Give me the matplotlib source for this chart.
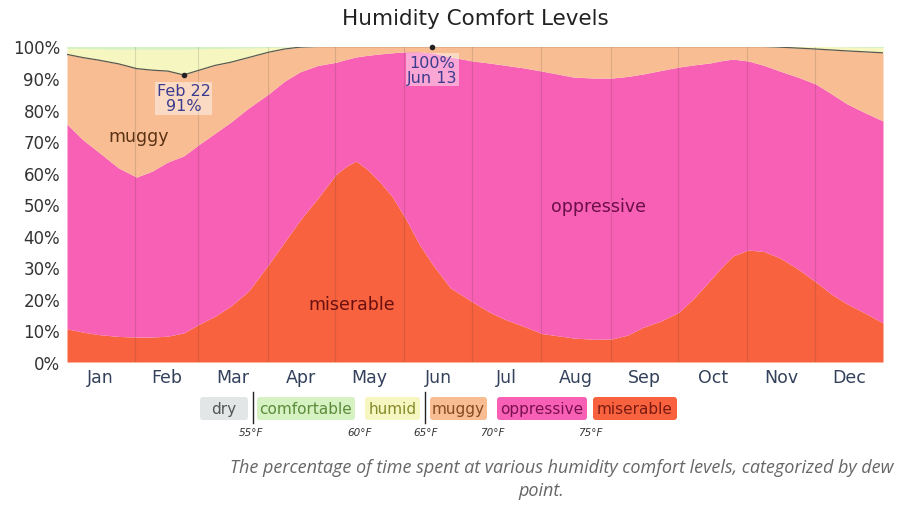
"""Humidity comfort levels: stacked share of time per dew-point band over the year."""

import numpy as np
import matplotlib
matplotlib.use("Agg")
import matplotlib.pyplot as plt
from matplotlib.patches import FancyBboxPatch

plt.rcParams["font.family"] = ["DejaVu Sans"]

# day of year for each sample
days = [1, 8, 15, 24, 32, 39, 46, 53, 60, 67,
        74, 82, 91, 98, 105, 113, 121, 126, 130, 135,
        140, 146, 152, 158, 164, 172, 182, 189, 196, 204,
        213, 227, 236, 244, 251, 258, 266, 274, 281, 288,
        293, 298, 305, 312, 319, 327, 335, 342, 349, 357,
        365]

# cumulative shares (% of time at or above each band), read at the days above
miserable = [10.5, 9.5, 8.7, 8.1, 7.9, 7.9, 8.2, 9.2, 12, 14.5,
             17.7, 22.5, 31, 38, 45, 52, 59.5, 62.2, 63.7, 61,
             57.5, 52.5, 45.5, 37.5, 31, 23.5, 19, 16, 13.6, 11.5,
             9, 7.6, 7.2, 7.3, 8.5, 11, 13, 15.8, 20.5, 26,
             30, 33.6, 35.5, 35, 33, 29.5, 25.4, 21.5, 18.4, 15.5,
             12.4]
oppressive_or_worse = [75.4, 70.5, 66.6, 61.5, 58.6, 60.5, 63.4, 65.3, 69, 72.5,
                       76, 80.5, 85, 89, 92, 94, 95, 96, 96.7, 97.2,
                       97.6, 98, 98.3, 98.3, 98, 96.7, 95.4, 94.8, 94.1, 93.3,
                       92.2, 90.3, 90, 90, 90.5, 91.3, 92.4, 93.5, 94.2, 94.8,
                       95.5, 96, 95.4, 94, 92.2, 90.3, 88.1, 85, 81.8, 79,
                       76.4]
muggy_or_worse = [97.5, 96.5, 95.7, 94.5, 93, 92.5, 92.2, 91, 92.5, 94,
                  95, 96.5, 98.2, 99.2, 99.8, 100, 100, 100, 100, 100,
                  100, 100, 100, 100, 100, 100, 100, 100, 100, 100,
                  100, 100, 100, 100, 100, 100, 100, 100, 100, 100,
                  100, 100, 100, 100, 99.8, 99.5, 99.2, 98.9, 98.6, 98.3,
                  98]
comfortable = [0.6, 0.6, 0.7, 0.8, 0.8, 0.8, 0.8, 0.8, 0.7, 0.6,
               0.5, 0.4, 0.3, 0.1, 0, 0, 0, 0, 0, 0,
               0, 0, 0, 0, 0, 0, 0, 0, 0, 0,
               0, 0, 0, 0, 0, 0, 0, 0, 0, 0,
               0, 0, 0, 0, 0, 0, 0, 0, 0.1, 0.2,
               0.3]

months = ["Jan", "Feb", "Mar", "Apr", "May", "Jun",
          "Jul", "Aug", "Sep", "Oct", "Nov", "Dec"]
month_len = [31, 28, 31, 30, 31, 30, 31, 31, 30, 31, 30, 31]

bands = ["dry", "comfortable", "humid", "muggy", "oppressive", "miserable"]
thresholds = ["55°F", "60°F", "65°F", "70°F", "75°F"]

# min / max of "muggy or worse"
ann_days = [53, 164]
ann_vals = [91, 100]
ann_text = ["Feb 22\n91%", "100%\nJun 13"]

fill = {"dry": "#e2e6e7", "comfortable": "#d6f1c2", "humid": "#f6f6c0",
        "muggy": "#f8bd92", "oppressive": "#f760b4", "miserable": "#f8623e"}
ink = {"dry": "#555555", "comfortable": "#5b8c3a", "humid": "#878a2a",
       "muggy": "#874a22", "oppressive": "#7a1050", "miserable": "#7a1a12"}

fig = plt.figure(figsize=(9, 5.1), dpi=100)
W, H = 900, 510
ax = fig.add_axes([67 / W, 1 - 363 / H, (883 - 67) / W, (363 - 47.5) / H])

humid_or_worse = 100 - np.array(comfortable)
layers = [np.zeros(len(days)), miserable, oppressive_or_worse, muggy_or_worse,
          humid_or_worse, np.full(len(days), 100.0)]
for b, lo, hi in zip(bands[::-1][:-1], layers[:-1], layers[1:]):
    ax.fill_between(days, lo, hi, color=fill[b], lw=0)
ax.fill_between(days, humid_or_worse, 100, color=fill["comfortable"], lw=0)

# boundary between humid and muggy (65°F)
ax.plot(days, muggy_or_worse, color="#333333", lw=0.9, alpha=0.8)

edges = np.cumsum([0] + month_len)
for e in edges[1:-1]:
    ax.axvline(e + 0.5, color="#333333", lw=0.8, alpha=0.15)
ax.set_xlim(1, 365)
ax.set_ylim(0, 100)
ax.set_xticks((edges[:-1] + edges[1:]) / 2 + 0.5)
ax.set_xticklabels(months, color="#33415c", fontsize=12.5)
ax.set_yticks(range(0, 101, 10))
ax.set_yticklabels([f"{v}%" for v in range(0, 101, 10)], color="#333333",
                   fontsize=12)
ax.tick_params(axis="y", length=0, pad=5)
ax.tick_params(axis="x", length=0, pad=4)
for s in ax.spines.values():
    s.set_visible(False)

ax.text(33, 71.5, "muggy", color="#5a3214", fontsize=12.5, ha="center", va="center")
ax.text(238, 49.5, "oppressive", color="#6a0f48", fontsize=12.5, ha="center", va="center")
ax.text(128, 18.5, "miserable", color="#6a1010", fontsize=12.5, ha="center", va="center")

for d, v, t in zip(ann_days, ann_vals, ann_text):
    ax.plot(d, v, "o", color="#222222", ms=3, clip_on=False, zorder=5)
    ax.annotate(t, (d, v), xytext=(0, -6), textcoords="offset points",
                ha="center", va="top", fontsize=11.5, color="#3b3b8f",
                linespacing=1.0,
                bbox=dict(boxstyle="square,pad=0.1", fc="white", ec="none", alpha=0.45))

fig.text(475 / W, 1 - 19 / H, "Humidity Comfort Levels", ha="center", va="center",
         fontsize=15.5, color="#222222")

# legend drawn in pixel coordinates
lg = fig.add_axes([0, 0, 1, 1])
lg.set_xlim(0, W)
lg.set_ylim(H, 0)
lg.axis("off")
box_x = [(200, 248), (257, 355), (365, 420), (430, 487), (497, 587), (593, 677)]
for b, (x0, x1) in zip(bands, box_x):
    lg.add_patch(FancyBboxPatch((x0, 398), x1 - x0, 23,
                                boxstyle="round,pad=0,rounding_size=3",
                                fc=fill[b], ec="none"))
    lg.text((x0 + x1) / 2, 409.5, b, ha="center", va="center", fontsize=11,
            color=ink[b])
for sx in (253, 425):
    lg.plot([sx, sx], [393, 424], color="#222222", lw=1)
for x, t in zip([251, 360, 426, 492, 590], thresholds):
    lg.text(x, 433, t, ha="center", va="center", fontsize=7.5, style="italic",
            color="#333333")

lg.text(562, 468, "The percentage of time spent at various humidity comfort levels, "
        "categorized by dew", ha="center", va="center", fontsize=13,
        style="italic", color="#666666", family="Open Sans")
lg.text(541, 491, "point.", ha="center", va="center", fontsize=13,
        style="italic", color="#666666", family="Open Sans")

fig.savefig("out.png", dpi=100, facecolor="white")
